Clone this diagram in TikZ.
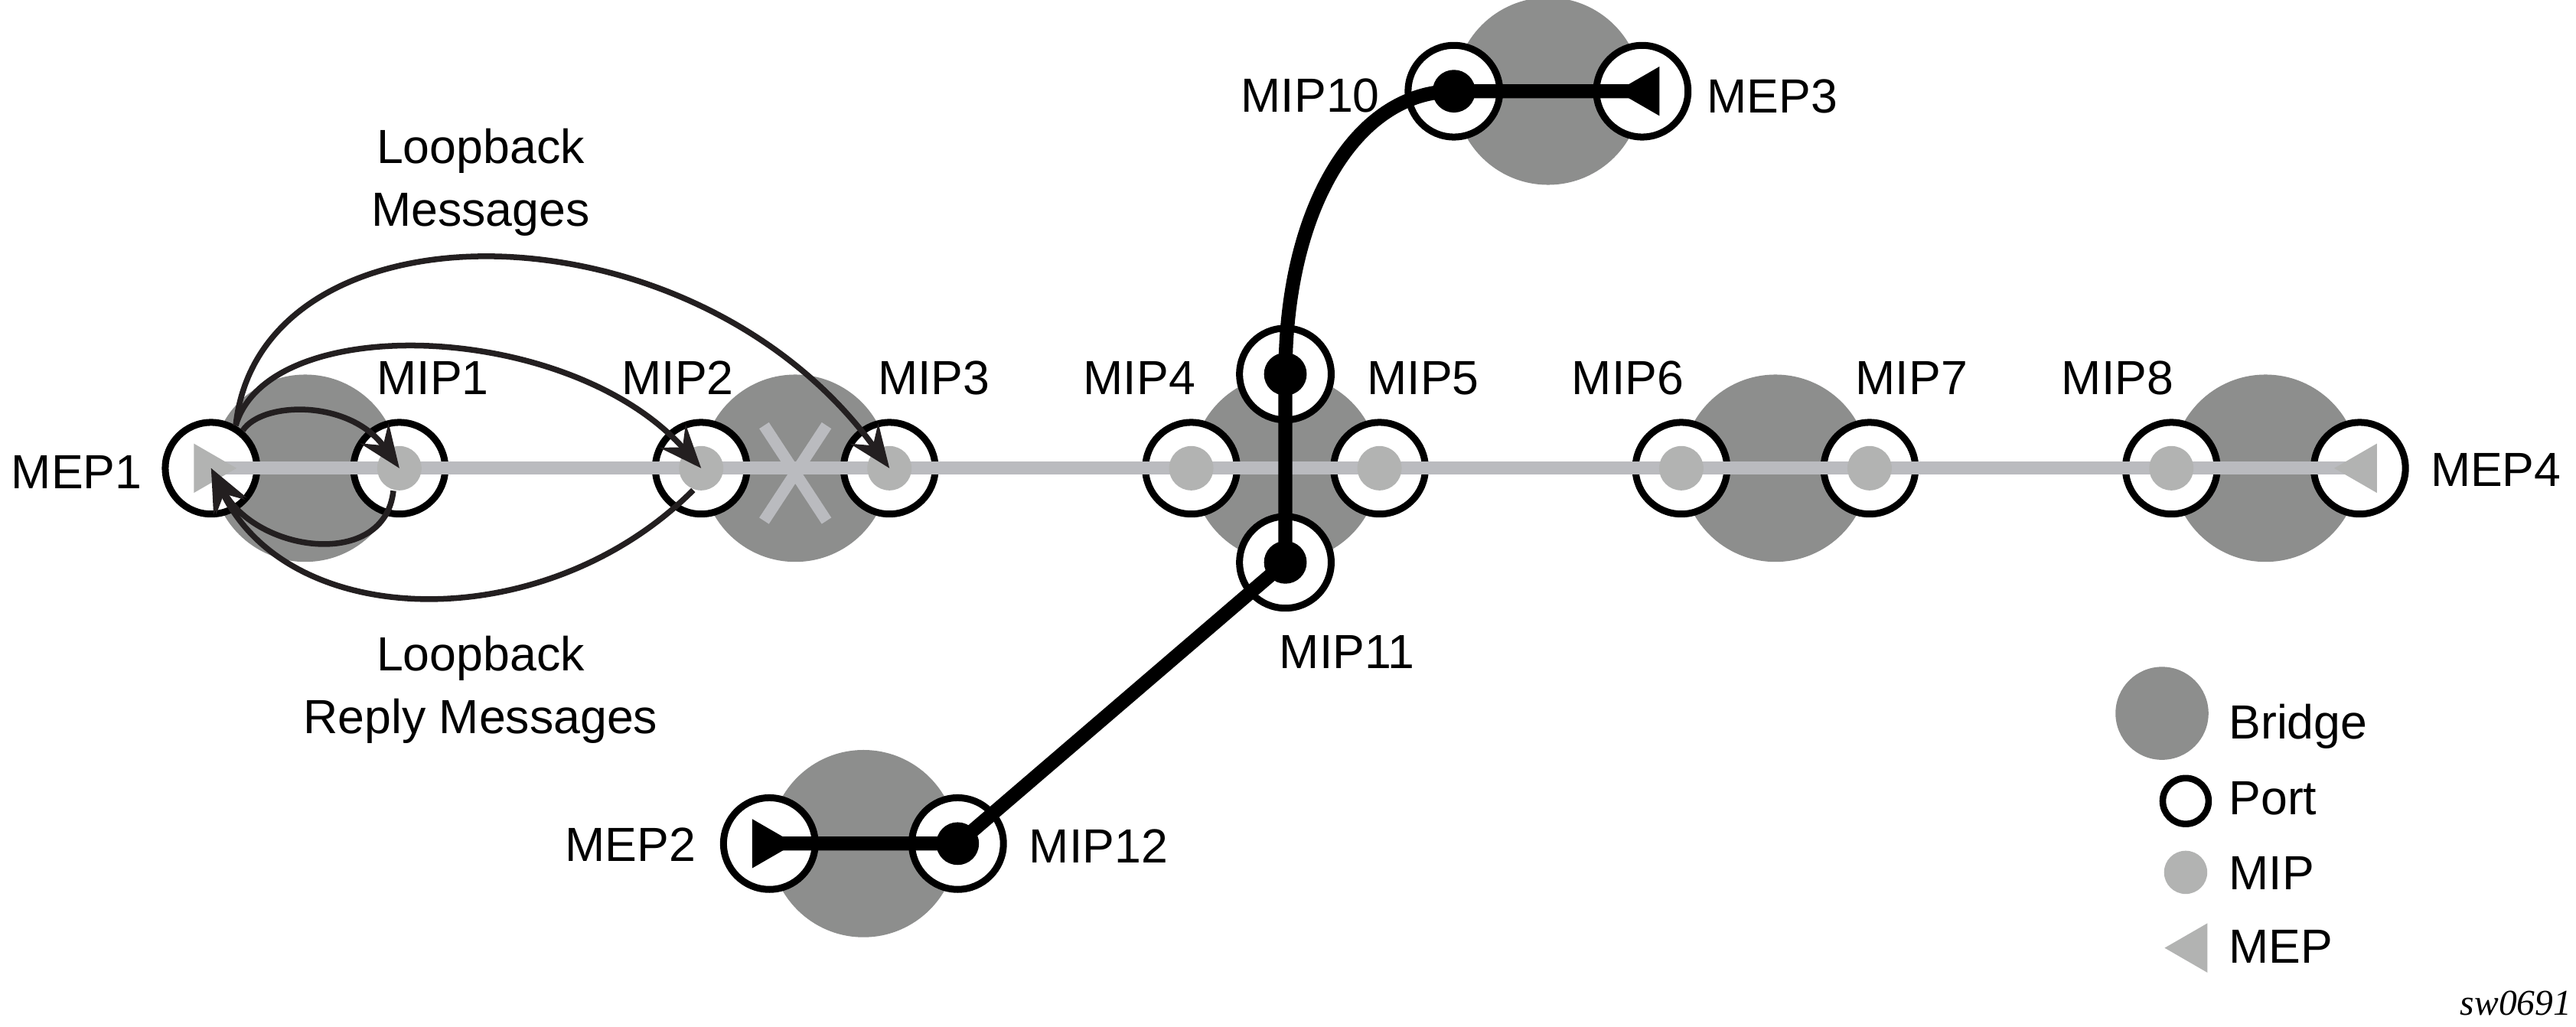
\documentclass[tikz,border=0pt]{standalone}
\usepackage{fontspec}
\setmainfont{Liberation Sans}
\newfontfamily\tagfont{Liberation Serif}
\usetikzlibrary{arrows.meta}
\definecolor{bridgegray}{RGB}{141,142,141}
\definecolor{linegray}{RGB}{186,187,191}
\definecolor{mipgray}{RGB}{178,179,178}
\definecolor{arcblack}{RGB}{35,31,32}
\tikzset{
    bridge/.style={
        circle,
        fill=bridgegray,
        minimum size=11.4mm,
        inner sep=0pt
    },
    port/.style={
        circle,
        draw=black,
        line width=0.42mm,
        fill=white,
        minimum size=5.58mm,
        inner sep=0pt
    },
    mipdot/.style={
        circle,
        fill=mipgray,
        minimum size=2.7mm,
        inner sep=0pt
    },
    blackdot/.style={
        circle,
        fill=black,
        minimum size=2.6mm,
        inner sep=0pt
    },
    trunk/.style={
        draw=linegray,
        line width=0.8mm
    },
    trail/.style={
        draw=black,
        line width=0.85mm
    },
    xmark/.style={
        draw=linegray,
        line width=0.7mm
    },
    msg/.style={
        draw=arcblack,
        line width=0.35mm,
        -{Stealth[length=2.6mm, width=2.1mm, inset=0.9mm]}
    },
    lbl/.style={
        font=\fontsize{8.3}{10.9}\selectfont,
        inner sep=0pt
    },
    meptri/.pic={
        \path[pic actions] (-10.5,-15) -- (15.5,0) -- (-10.5,15) -- cycle;
    }
}

\begin{document}
\begin{tikzpicture}[x=0.1mm, y=-0.1mm]
\useasboundingbox (0,0) rectangle (1568,625);

% Bridges
\node[bridge] (br1) at (185.8,285) {};
\node[bridge] (br2) at (484.1,285) {};
\node[bridge] (br3) at (782.4,285) {};
\node[bridge] (br4) at (1080.7,285) {};
\node[bridge] (br5) at (1379,285) {};
\node[bridge] (br_top) at (942.3,55.5) {};
\node[bridge] (br_bot) at (525.6,513.5) {};

% Ports
\node[port] (p_mep1) at (br1) [xshift=-5.73mm] {};
\node[port] (p_mip1) at (br1) [xshift=5.73mm] {};
\node[port] (p_mip2) at (br2) [xshift=-5.73mm] {};
\node[port] (p_mip3) at (br2) [xshift=5.73mm] {};
\node[port] (p_mip4) at (br3) [xshift=-5.73mm] {};
\node[port] (p_mip5) at (br3) [xshift=5.73mm] {};
\node[port] (p_up) at (br3) [yshift=5.73mm] {};
\node[port] (p_mip11) at (br3) [yshift=-5.73mm] {};
\node[port] (p_mip6) at (br4) [xshift=-5.73mm] {};
\node[port] (p_mip7) at (br4) [xshift=5.73mm] {};
\node[port] (p_mip8) at (br5) [xshift=-5.73mm] {};
\node[port] (p_mep4) at (br5) [xshift=5.73mm] {};
\node[port] (p_mip10) at (br_top) [xshift=-5.73mm] {};
\node[port] (p_mep3) at (br_top) [xshift=5.73mm] {};
\node[port] (p_mep2) at (br_bot) [xshift=-5.73mm] {};
\node[port] (p_mip12) at (br_bot) [xshift=5.73mm] {};

% MA line through the bridges
\draw[trunk] (p_mep1.center) -- (p_mep4.center);
\draw[xmark, shift={(br2.center)}] (-19,-26) -- (19,32) (19,-26) -- (-19,32);

% MIPs and MEPs on the line
\node[mipdot] (d_mip1) at (p_mip1) {};
\node[mipdot] (d_mip2) at (p_mip2) {};
\node[mipdot] (d_mip3) at (p_mip3) {};
\node[mipdot] (d_mip4) at (p_mip4) {};
\node[mipdot] (d_mip5) at (p_mip5) {};
\node[mipdot] (d_mip6) at (p_mip6) {};
\node[mipdot] (d_mip7) at (p_mip7) {};
\node[mipdot] (d_mip8) at (p_mip8) {};
\pic[fill=mipgray] at (p_mep1) {meptri};
\pic[fill=mipgray, rotate=180] at (p_mep4) {meptri};

% Second MA (black)
\node[blackdot] (d_up) at (p_up) {};
\node[blackdot] (d_mip11) at (p_mip11) {};
\node[blackdot] (d_mip10) at (p_mip10) {};
\node[blackdot] (d_mip12) at (p_mip12) {};
\draw[trail] (p_mep2.center) -- (d_mip12.center) -- (d_mip11.center) -- (d_up.center)
    .. controls +(0,-100) and +(-60,0) .. (d_mip10.center) -- (p_mep3.center);
\pic[fill=black] at (p_mep2) {meptri};
\pic[fill=black, rotate=180] at (p_mep3) {meptri};

% Loopback messages and replies
\draw[msg] (p_mep1.50) .. controls +(12,-18) and +(-30,-42) .. (d_mip1.center);
\draw[msg] (p_mep1.60) .. controls +(20,-70) and +(-80,-90) .. (d_mip2.center);
\draw[msg] (p_mep1.60) .. controls +(15,-140) and +(-120,-165) .. (d_mip3.center);
\draw[msg] (d_mip1.255) .. controls +(-5,48) and +(28,52) .. (p_mep1.center);
\draw[msg] (d_mip2.250) .. controls +(-90,90) and +(47,100) .. (p_mep1.center);

% Labels
\node[lbl, anchor=base east] (l_mep1) at (p_mep1) [xshift=-4.14mm, yshift=-1.23mm] {MEP1};
\node[lbl, anchor=base west] (l_mip1) at (p_mip1) [xshift=-1.44mm, yshift=4.5mm] {MIP1};
\node[lbl, anchor=base east] (l_mip2) at (p_mip2) [xshift=2.05mm, yshift=4.5mm] {MIP2};
\node[lbl, anchor=base west] (l_mip3) at (p_mip3) [xshift=-0.76mm, yshift=4.5mm] {MIP3};
\node[lbl, anchor=base east] (l_mip4) at (p_mip4) [xshift=0.32mm, yshift=4.5mm] {MIP4};
\node[lbl, anchor=base west] (l_mip5) at (p_mip5) [xshift=-0.82mm, yshift=4.5mm] {MIP5};
\node[lbl, anchor=base east] (l_mip6) at (p_mip6) [xshift=0.22mm, yshift=4.5mm] {MIP6};
\node[lbl, anchor=base west] (l_mip7) at (p_mip7) [xshift=-0.92mm, yshift=4.5mm] {MIP7};
\node[lbl, anchor=base east] (l_mip8) at (p_mip8) [xshift=0.2mm, yshift=4.5mm] {MIP8};
\node[lbl, anchor=base west] (l_mep4) at (p_mep4) [xshift=4.25mm, yshift=-1.1mm] {MEP4};
\node[lbl, anchor=base east] (l_mip10) at (p_mip10) [xshift=-4.45mm, yshift=-1.28mm] {MIP10};
\node[lbl, anchor=base west] (l_mep3) at (p_mep3) [xshift=3.87mm, yshift=-1.3mm] {MEP3};
\node[lbl, anchor=base west] (l_mip11) at (p_mip11) [xshift=-0.43mm, yshift=-6.47mm] {MIP11};
\node[lbl, anchor=base east] (l_mep2) at (p_mep2) [xshift=-4.41mm, yshift=-1.1mm] {MEP2};
\node[lbl, anchor=base west] (l_mip12) at (p_mip12) [xshift=4.29mm, yshift=-1.15mm] {MIP12};
\node[lbl, align=center, anchor=north] (t_lbm) at (292.5,77.5) {Loopback\\Messages};
\node[lbl, align=center, anchor=north] (t_lbr) at (292.5,386.5) {Loopback\\Reply Messages};

% Legend
\node[bridge, minimum size=5.66mm] (lg_bridge) at (1316,434.2) {};
\node[port, minimum size=2.79mm, line width=0.4mm] (lg_port) at (1330.4,487.6) {};
\node[mipdot, minimum size=2.63mm] (lg_mip) at (1330.4,531) {};
\coordinate (lg_mep) at (1333.1,577);
\pic[fill=mipgray, rotate=180] at (lg_mep) {meptri};
\node[lbl, anchor=base west] (lt_bridge) at (1356,449.7) {Bridge};
\node[lbl, anchor=base west] (lt_port) at (1356,496) {Port};
\node[lbl, anchor=base west] (lt_mip) at (1356,541.3) {MIP};
\node[lbl, anchor=base west] (lt_mep) at (1356,586.3) {MEP};

\node[font={\tagfont\itshape\fontsize{6.3}{7}\selectfont}, anchor=base east, inner sep=0pt] (tag) at (1566,618) {sw0691};

\end{tikzpicture}
\end{document}
